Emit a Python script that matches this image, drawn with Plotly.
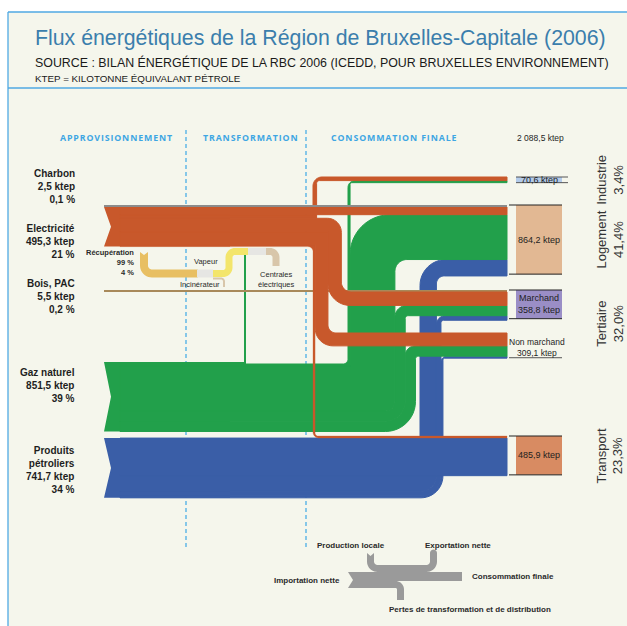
import math
import plotly.graph_objects as go

# ---------------------------------------------------------------
# Energy flows of the Brussels-Capital Region, 2006 (ktep)
# ---------------------------------------------------------------
source_names = ["Charbon", "Electricité", "Bois, PAC", "Gaz naturel", "Produits<br>pétroliers"]
source_ktep = [2.5, 495.3, 5.5, 851.5, 741.7]
source_share = ["0,1 %", "21 %", "0,2 %", "39 %", "34 %"]

sectors = ["Industrie", "Logement", "Marchand", "Non marchand", "Transport"]
sector_ktep = [70.6, 864.2, 358.8, 309.1, 485.9]
total_final_ktep = 2088.5

# what each supply reaches, in the order of `sectors` (ktep)
charbon_to = [0.0, 2.5, 0.0, 0.0, 0.0]
electricite_to = [45.0, 96.0, 167.5, 160.9, 25.9]
bois_to = [0.0, 0.0, 5.5, 0.0, 0.0]
gaz_to = [25.6, 560.7, 128.8, 128.5, 0.0]
petrole_to = [0.0, 205.0, 57.0, 19.7, 460.0]
gaz_to_transformation = 7.9

recuperation_labels = ["Récupération", "99 %", "4 %"]

# ---------------------------------------------------------------
# styling
# ---------------------------------------------------------------
FONT = "Liberation Sans, Arial, sans-serif"
BG = "#f5f6ec"
FRAME = "#4fa9e3"
TITLE = "#3b7eac"
HEAD = "#3ea6e3"
TXT = "#1e1e1e"

C_ELEC = "#c8582b"
C_GAZ = "#22a04b"
C_PETRO = "#3a5ea7"
C_CHARBON = "#8c8c8c"
C_BOIS = "#a8895a"
C_RECUP = "#e8bf62"
C_VAPEUR = "#f3e56b"
C_INCIN = "#e6e6e3"
C_CENTRALE = "#d8c6aa"
C_LEGEND = "#9a9a9a"
BOX_COL = ["#b3cbea", "#e2b893", "#9a8ec6", None, "#d88b62"]

S = 0.08          # px per ktep
MIN_W = 2.0       # thinnest drawn stream
OVERLAP = 0.8     # each stream is drawn slightly into its lower neighbour
X_SRC, NOTCH, X_TRUNK, X_START, X_END = 104, 7, 230, 120, 507
slot_top = [177, 205, 290, 333, 436]


def wd(v):
    return max(v * S, MIN_W) if v > 0 else 0.0


shapes = []


def path_of(pts):
    return "M " + " L ".join(f"{x:.2f},{y:.2f}" for x, y in pts) + " Z"


def add_poly(pts, color, seam=1.0):
    # a hairline stroke in the fill colour hides anti-aliasing seams between touching streams
    ln = dict(color=color, width=seam) if seam else dict(width=0)
    shapes.append(dict(type="path", xref="x", yref="y", path=path_of(pts),
                       fillcolor=color, line=ln, layer="above", opacity=1))


def add_rect(x0, y0, x1, y1, color, line=None):
    shapes.append(dict(type="rect", xref="x", yref="y", x0=x0, y0=y0, x1=x1, y1=y1,
                       fillcolor=color, line=line or dict(width=0), layer="above"))


def add_line(x0, y0, x1, y1, color, width=1.0, dash=None):
    ln = dict(color=color, width=width)
    if dash:
        ln["dash"] = dash
    shapes.append(dict(type="line", xref="x", yref="y", x0=x0, y0=y0, x1=x1, y1=y1,
                       line=ln, layer="above"))


def arc(cx, cy, r, t0, t1, m=12):
    if r <= 0:
        return [(cx, cy)]
    return [(cx + r * math.cos(math.radians(t0 + (t1 - t0) * k / m)),
             cy + r * math.sin(math.radians(t0 + (t1 - t0) * k / m))) for k in range(m + 1)]


def route(x0, y1, xc, y2, x1, w, r1i=0, r1o=0, r2i=0, r2o=0):
    """Stream of width w: right from x0 at y1, vertical at column xc, right again at y2 up to x1."""
    if xc is None or abs(y2 - y1) < 1e-9:
        return [(x0, y1), (x1, y1), (x1, y1 + w), (x0, y1 + w)]
    pts = [(x0, y1)]
    if y2 > y1:
        pts += arc(xc + w - r1o, y1 + r1o, r1o, -90, 0)
        pts += arc(xc + w + r2i, y2 - r2i, r2i, 180, 90)
        pts += [(x1, y2), (x1, y2 + w)]
        pts += arc(xc + r2o, y2 + w - r2o, r2o, 90, 180)
        pts += arc(xc - r1i, y1 + w + r1i, r1i, 0, -90)
    else:
        pts += arc(xc - r1i, y1 - r1i, r1i, 90, 0)
        pts += arc(xc + r2o, y2 + r2o, r2o, 180, 270)
        pts += [(x1, y2), (x1, y2 + w)]
        pts += arc(xc + w + r2i, y2 + w + r2i, r2i, 270, 180)
        pts += arc(xc + w - r1o, y1 + w - r1o, r1o, 0, 90)
    pts += [(x0, y1 + w)]
    return pts


def ribbon(pts, w, rc, end="flat", notch=0.0, m=10):
    """Constant-width band along an axis-aligned polyline with rounded bends."""
    left, right = [], []

    def push(p, d):
        nx, ny = -d[1], d[0]
        left.append((p[0] + nx * w / 2, p[1] + ny * w / 2))
        right.append((p[0] - nx * w / 2, p[1] - ny * w / 2))

    dirs = []
    for a, b in zip(pts[:-1], pts[1:]):
        dx, dy = b[0] - a[0], b[1] - a[1]
        L = math.hypot(dx, dy)
        dirs.append((dx / L, dy / L))
    push(pts[0], dirs[0])
    for i in range(1, len(pts) - 1):
        din, dout = dirs[i - 1], dirs[i]
        px, py = pts[i]
        ax, ay = px - din[0] * rc, py - din[1] * rc
        cx, cy = ax + dout[0] * rc, ay + dout[1] * rc
        bx, by = px + dout[0] * rc, py + dout[1] * rc
        a0 = math.atan2(ay - cy, ax - cx)
        a1 = math.atan2(by - cy, bx - cx)
        da = (a1 - a0 + math.pi) % (2 * math.pi) - math.pi
        sg = 1 if da > 0 else -1
        for k in range(m + 1):
            t = a0 + da * k / m
            push((cx + rc * math.cos(t), cy + rc * math.sin(t)), (-math.sin(t) * sg, math.cos(t) * sg))
    push(pts[-1], dirs[-1])
    poly = left[:]
    if end == "round":
        d = dirs[-1]
        td = math.atan2(d[1], d[0])
        p = pts[-1]
        for k in range(1, m):
            t = td + math.pi / 2 - math.pi * k / m
            poly.append((p[0] + w / 2 * math.cos(t), p[1] + w / 2 * math.sin(t)))
    poly += right[::-1]
    if notch:
        d = dirs[0]
        poly.append((pts[0][0] + d[0] * notch, pts[0][1] + d[1] * notch))
    return poly


def trunk(top, bottom, color, x0=X_SRC, x1=X_TRUNK, notch=NOTCH):
    add_poly([(x0, top), (x1, top), (x1, bottom), (x0, bottom), (x0 + notch, (top + bottom) / 2)],
             color, seam=0)


# ---------------------------------------------------------------
# where every stream lands inside its sector slot (top to bottom)
# ---------------------------------------------------------------
stack_order = [("charbon", charbon_to), ("bois", bois_to), ("elec", electricite_to),
               ("gaz", gaz_to), ("petrole", petrole_to)]
dest = {}
for j in range(len(sectors)):
    y = slot_top[j]
    for name, arr in stack_order:
        if arr[j] > 0:
            dest[(name, j)] = y
            y += wd(arr[j])

# ---------------------------------------------------------------
# frame
# ---------------------------------------------------------------
add_rect(8, 12, 627, 626, BG)
add_line(8, 12, 627, 12, FRAME, 1.3)
add_line(8, 12, 8, 626, FRAME, 1.3)
add_line(8, 88, 627, 88, FRAME, 1.3)
for xd in (186, 306):
    add_line(xd, 130, xd, 547, "#4aaee6", 1.3, "4px,3px")

# ---------------------------------------------------------------
# petroleum products (drawn bottom stream first so upper ones overlap it)
# ---------------------------------------------------------------
pw = [wd(v) for v in petrole_to]
p_top = dest[("petrole", 4)]
trunk(p_top, p_top + sum(pw), C_PETRO)
up_p = [1, 2, 3]
r_first = {}
r = 22.0
for j in reversed(up_p):
    r_first[j] = (max(r - pw[j], 0.0), r)
    r = r - pw[j]
second_p = {1: (8, 26), 2: (3, 9), 3: (2, 6)}
p_y, p_x = {}, {}
y = p_top + pw[4]
xc = 420
for j in up_p:
    p_y[j], p_x[j] = y, xc
    y += pw[j]
    xc += pw[j]
for j in reversed(up_p):
    ri, ro = r_first[j]
    add_poly(route(X_START, p_y[j], p_x[j], dest[("petrole", j)], X_END, pw[j], ri, ro, *second_p[j]),
             C_PETRO)
add_poly(route(X_START, p_top, None, p_top, X_END, pw[4] + OVERLAP), C_PETRO)

# ---------------------------------------------------------------
# natural gas
# ---------------------------------------------------------------
gw = [wd(v) for v in gaz_to]
tw = wd(gaz_to_transformation)
g_top = 362
trunk(g_top, g_top + tw + sum(gw), C_GAZ)
add_poly(route(X_START, g_top, 244, 251, 244 + tw, tw), C_GAZ, seam=0)
up_g = [0, 1, 2, 3]
r_first = {}
r = 30.0
for j in reversed(up_g):
    r_first[j] = (max(r - gw[j], 0.0), r)
    r = r - gw[j]
r_first[0] = (5.0, 0.0)
second_g = {0: (2, 7), 1: (12, 40), 2: (3, 12), 3: (3, 10)}
g_y, g_x = {}, {}
y = g_top + tw
xc = 348
for j in up_g:
    g_y[j], g_x[j] = y, xc
    y += gw[j]
    xc += gw[j]
for j in reversed(up_g):
    ri, ro = r_first[j]
    add_poly(route(X_START, g_y[j], g_x[j], dest[("gaz", j)], X_END, gw[j], ri, ro, *second_g[j]), C_GAZ)

# ---------------------------------------------------------------
# wood / heat pumps
# ---------------------------------------------------------------
add_poly(route(X_SRC, dest[("bois", 2)], None, dest[("bois", 2)], X_END, wd(bois_to[2])), C_BOIS, seam=0)

# ---------------------------------------------------------------
# electricity
# ---------------------------------------------------------------
ew = [wd(v) for v in electricite_to]
e_top = dest[("elec", 1)]
trunk(e_top, e_top + sum(ew), C_ELEC)
e_order = [1, 0, 2, 3, 4]
ey = {}
y = e_top
for j in e_order:
    ey[j] = y
    y += ew[j]
x_tr = 313
x_nm = x_tr + ew[4]
x_ma = x_nm + ew[3]
add_poly(route(X_START, ey[4], x_tr, dest[("elec", 4)], X_END, ew[4], 5, 0, 3, 6), C_ELEC, seam=0.3)
add_poly(route(X_START, ey[3], x_nm, dest[("elec", 3)], X_END, ew[3], 0, 0, 8, 18), C_ELEC)
add_poly(route(X_START, ey[2], x_ma, dest[("elec", 2)], X_END, ew[2], 0, 14, 10, 22), C_ELEC)
add_poly(route(X_START, ey[0], 313, dest[("elec", 0)], X_END, ew[0], 0, 0, 3, 9), C_ELEC)
add_poly(route(X_START, ey[1], None, ey[1], X_END, ew[1]), C_ELEC)

# ---------------------------------------------------------------
# coal
# ---------------------------------------------------------------
add_poly(route(X_SRC, dest[("charbon", 1)], None, dest[("charbon", 1)], X_END, wd(charbon_to[1])),
         C_CHARBON, seam=0)

# ---------------------------------------------------------------
# recovery / incineration / steam / power plants
# ---------------------------------------------------------------
add_poly(ribbon([(144, 252), (144, 273.5), (198, 273.5)], 8, 8, notch=3), C_RECUP, seam=0)
add_rect(197, 269.5, 213, 277.5, C_INCIN)
add_poly(ribbon([(213, 273.5), (229, 273.5), (229, 251.5), (249, 251.5)], 7, 6), C_VAPEUR, seam=0)
add_rect(248, 248, 267, 255, C_INCIN)
add_poly(ribbon([(266, 251.5), (276, 251.5), (276, 266)], 7, 6), C_CENTRALE, seam=0)
add_poly(ribbon([(213, 278.5), (224, 278.5), (224, 287)], 2, 3), C_CENTRALE, seam=0)

# ---------------------------------------------------------------
# sector boxes
# ---------------------------------------------------------------
box_line = "#222222"
for j in range(len(sectors)):
    top = slot_top[j]
    bot = top + sector_ktep[j] * S
    if BOX_COL[j] is not None:
        add_rect(516, top, 562, bot, BOX_COL[j])
    if j == 0:
        add_line(516, top, 568, top, "#555555", 1)
        add_line(516, bot, 568, bot, "#555555", 1)
    elif j == 3:
        add_line(509, bot, 562, bot, "#555555", 1)
    else:
        add_line(509, top, 562, top, box_line, 1)
        add_line(509, bot, 562, bot, box_line, 1)

# ---------------------------------------------------------------
# reading key
# ---------------------------------------------------------------
trunk(572, 588, C_LEGEND, x0=348, x1=396, notch=5)
add_rect(395, 572, 462, 581, C_LEGEND)
add_poly(ribbon([(390, 584.5), (400.5, 584.5), (400.5, 600)], 7, 5), C_LEGEND, seam=0)
add_poly(ribbon([(370.5, 553), (370.5, 568.5), (433.5, 568.5), (433.5, 553)], 7, 7,
                end="round", notch=3), C_LEGEND, seam=0)

# ---------------------------------------------------------------
# texts
# ---------------------------------------------------------------
ann = []


def txt(x, y, s, size=9, color=TXT, xa="center", ya="middle", bold=False, family=FONT, angle=0):
    ann.append(dict(x=x, y=y, xref="x", yref="y", text=s, showarrow=False,
                    xanchor=xa, yanchor=ya, align=xa, textangle=angle,
                    font=dict(size=size, color=color, family=family,
                              weight="bold" if bold else "normal")))


def fr(v):
    return f"{v:,.1f}".replace(",", " ").replace(".", ",")


txt(33, 38, "Flux énergétiques de la Région de Bruxelles-Capitale (2006)", 21.3, TITLE, "left")
txt(33, 62, "SOURCE : BILAN ÉNERGÉTIQUE DE LA RBC 2006 (ICEDD, POUR BRUXELLES ENVIRONNEMENT)",
    12.4, "#1a1a1a", "left")
txt(33, 78, "KTEP = KILOTONNE ÉQUIVALANT PÉTROLE", 9.8, "#1a1a1a", "left")

spaced = lambda s: "\u200a".join(s)
txt(116, 138, spaced("APPROVISIONNEMENT"), 8.8, HEAD, bold=True, family="Open Sans, sans-serif")
txt(250, 138, spaced("TRANSFORMATION"), 8.8, HEAD, bold=True, family="Open Sans, sans-serif")
txt(393, 138, spaced("CONSOMMATION FINALE"), 8.8, HEAD, bold=True, family="Open Sans, sans-serif")
txt(540, 138, fr(total_final_ktep) + " ktep", 8.5)

label_y = [186, 241, 296.5, 385.5, 470]
for name, v, sh, ly in zip(source_names, source_ktep, source_share, label_y):
    txt(77, ly, f"{name}<br>{fr(v)} ktep<br>{sh}", 10, TXT, "right", bold=True)

txt(136, 262, "<br>".join(recuperation_labels), 7.5, "#2a2a2a", "right", bold=True)
txt(206, 261, "Vapeur", 7.5, "#2a2a2a")
txt(200, 284, "Incinérateur", 7.5, "#2a2a2a")
txt(276, 279, "Centrales<br>électriques", 7.5, "#2a2a2a")

# sector values
for j in range(len(sectors)):
    top = slot_top[j]
    bot = top + sector_ktep[j] * S
    mid = (top + bot) / 2
    if j == 2:
        txt(539, mid, f"{sectors[j]}<br>{fr(sector_ktep[j])} ktep", 9)
    elif j == 3:
        txt(537, bot - 10, f"{sectors[j]}<br>{fr(sector_ktep[j])} ktep", 8.5)
    else:
        txt(539, mid, f"{fr(sector_ktep[j])} ktep", 9)


# sector shares, rotated
def share(v):
    return f"{v / total_final_ktep * 100:.1f}".replace(".", ",") + "%"


groups = [("Industrie", [0]), ("Logement", [1]), ("Tertiaire", [2, 3]), ("Transport", [4])]
for label, idx in groups:
    top = slot_top[idx[0]]
    bot = slot_top[idx[-1]] + sector_ktep[idx[-1]] * S
    val = sum(sector_ktep[k] for k in idx)
    txt(610, (top + bot) / 2, f"{label}<br>{share(val)}", 13, "#333333", angle=-90)

# key labels
txt(351, 545, "Production locale", 8, "#2a2a2a", bold=True)
txt(458, 545, "Exportation nette", 8, "#2a2a2a", bold=True)
txt(342, 580, "Importation nette", 8, "#2a2a2a", "right", bold=True)
txt(470, 576, "Consommation finale", 8, "#2a2a2a", "left", bold=True)
txt(470, 609, "Pertes de transformation et de distribution", 8, "#2a2a2a", bold=True)

fig = go.Figure()
fig.update_layout(
    width=627, height=626,
    margin=dict(l=0, r=0, t=0, b=0, pad=0),
    paper_bgcolor="white", plot_bgcolor="white",
    xaxis=dict(range=[0, 627], visible=False, fixedrange=True),
    yaxis=dict(range=[626, 0], visible=False, fixedrange=True),
    shapes=shapes, annotations=ann, showlegend=False,
)
fig.write_html("out.html", config={"displayModeBar": False})
